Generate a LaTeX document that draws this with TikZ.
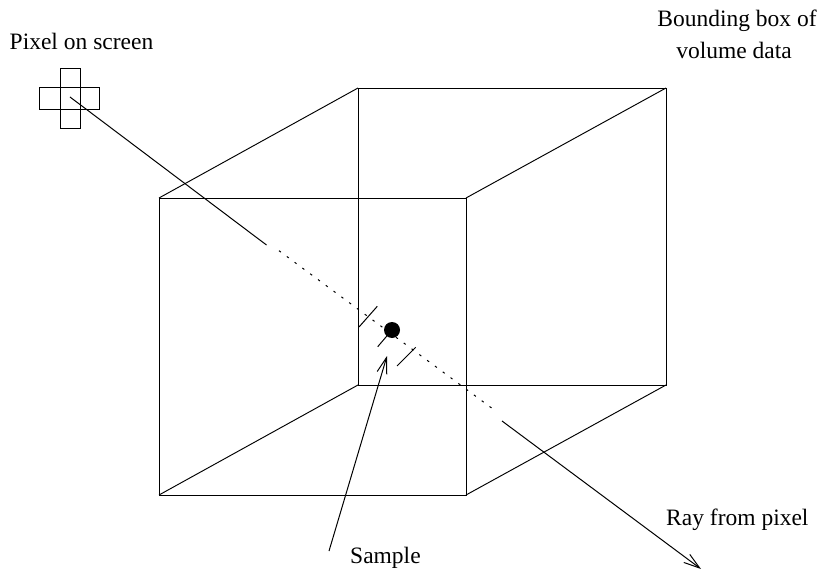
\documentclass[tikz,border=0pt]{standalone}
\usepackage{fontspec}
\setmainfont{Liberation Serif}
\usetikzlibrary{arrows.meta}
\tikzset{
  edge/.style={line width=0.95pt,black},
  thin edge/.style={line width=1pt,black},
  dots/.style={line width=1pt,dash pattern=on 2.4pt off 7.3pt},
  barb/.style={-{Straight Barb[length=16pt,width=10pt,line width=1pt]}},
  lbl/.style={font=\fontsize{23.5pt}{30.5pt}\selectfont,inner sep=0pt,align=center}
}
\begin{document}
\begin{tikzpicture}[x=1pt,y=-1pt]
\useasboundingbox (0,0) rectangle (821,569);
% cube corners
\coordinate (fa) at (159,198); \coordinate (fb) at (466,198);
\coordinate (fc) at (466,495); \coordinate (fd) at (159,495);
\coordinate (ba) at (358,88);  \coordinate (bb) at (666,88);
\coordinate (bc) at (666,385); \coordinate (bd) at (358,385);
\draw[edge] (fa) -- (fb) -- (fc) -- (fd) -- cycle;
\draw[edge] (ba) -- (bb) -- (bc) -- (bd) -- cycle;
\draw[edge] (fa) -- (ba) (fb) -- (bb) (fc) -- (bc) (fd) -- (bd);
% pixel cross
\coordinate (p1) at (60.3,68.7); \coordinate (p2) at (80,68.7);
\coordinate (p3) at (60.3,128.7); \coordinate (p4) at (80,128.7);
\coordinate (p5) at (39,88); \coordinate (p6) at (99.3,88);
\coordinate (p7) at (39,109.3); \coordinate (p8) at (99.3,109.3);
\draw[thin edge] (p1) -- (p2) -- (p4) -- (p3) -- cycle;
\draw[thin edge] (p5) -- (p6) -- (p8) -- (p7) -- cycle;
% ray
\coordinate (r0) at (70,97); \coordinate (r1) at (266.5,245);
\coordinate (r2) at (279,250.7); \coordinate (r3) at (497,412);
\coordinate (r4) at (502,421); \coordinate (r5) at (701,569);
\draw[thin edge] (r0) -- (r1);
\draw[dots] (r2) -- (r3);
\draw[thin edge,barb] (r4) -- (r5);
% sample ticks and dot
\coordinate (t1a) at (359,327); \coordinate (t1b) at (377.3,306.3);
\coordinate (t2a) at (377.7,346.7); \coordinate (t2b) at (392,330);
\coordinate (t3a) at (397,366); \coordinate (t3b) at (415.7,347.3);
\draw[thin edge] (t1a) -- (t1b);
\draw[thin edge] (t2a) -- (t2b);
\draw[thin edge] (t3a) -- (t3b);
\node[circle,fill=black,minimum size=16pt,inner sep=0pt] (dot) at (392,330) {};
% sample arrow
\coordinate (s0) at (329,551); \coordinate (s1) at (387,356);
\draw[thin edge,barb] (s0) -- (s1);
% labels
\node[lbl,anchor=base west] (l1) at (9.5,50) {Pixel on screen};
\node[lbl,anchor=base] (l2) at (737,27) {Bounding box of};
\node[lbl,anchor=base] (l3) at (734,59) {volume data};
\node[lbl,anchor=base west] (l4) at (666,525) {Ray from pixel};
\node[lbl,anchor=base west] (l5) at (350,563.5) {Sample};
\end{tikzpicture}
\end{document}
